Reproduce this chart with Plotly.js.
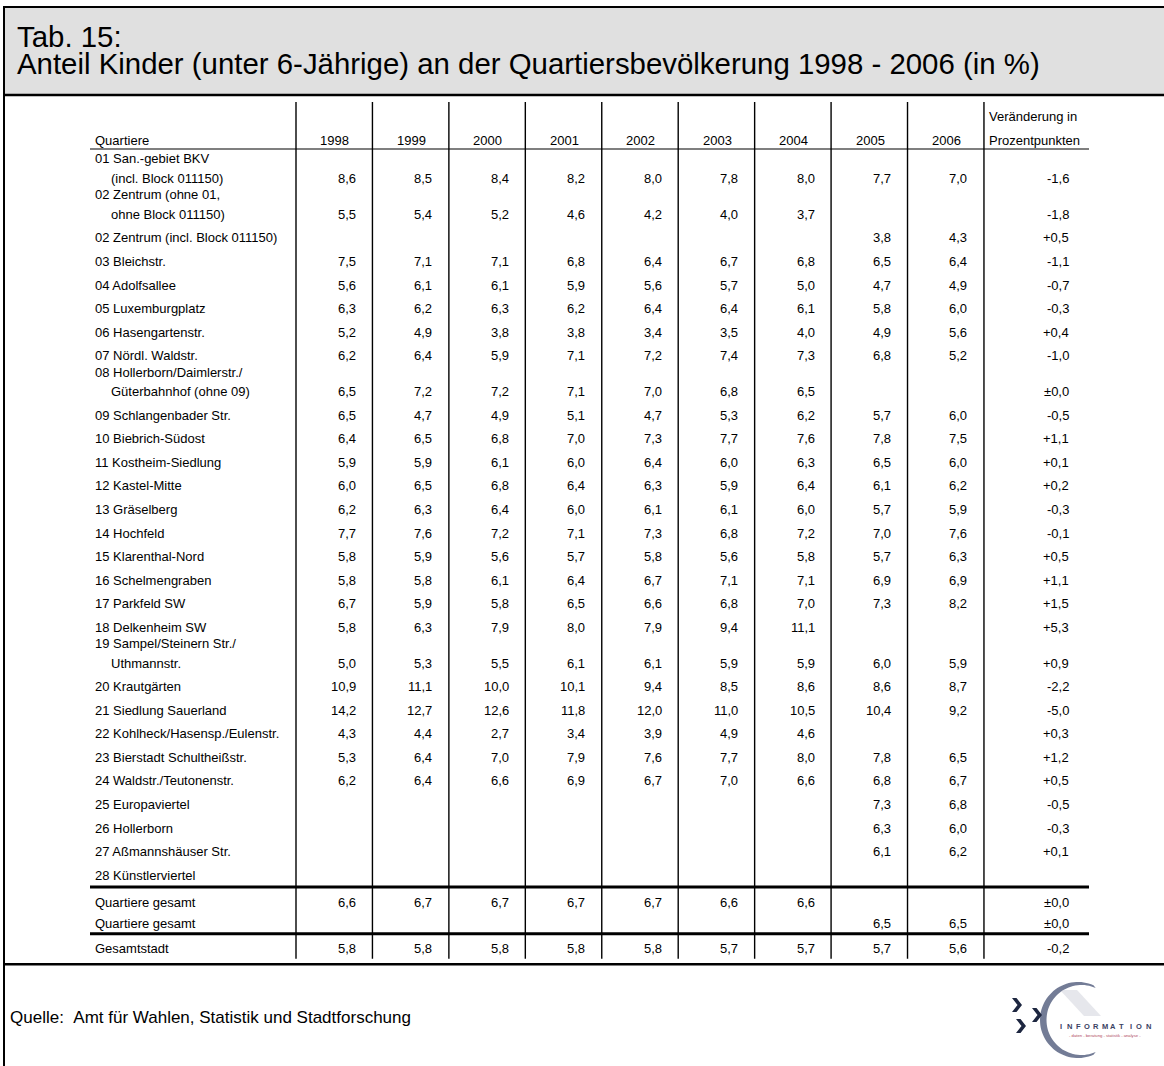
<!DOCTYPE html>
<html>
<head>
<meta charset="utf-8">
<script src="https://cdn.plot.ly/plotly-3.0.1.min.js"></script>
<style>html,body{margin:0;padding:0;background:#fff;}#chart{width:1164px;height:1066px;}</style>
</head>
<body>
<div id="chart"></div>
<script>
// ---------------- DATA ----------------
const titleLine1 = "Tab. 15:";
const titleLine2 = "Anteil Kinder (unter 6-Jährige) an der Quartiersbevölkerung 1998 - 2006 (in %)";
const sourceText = "Quelle:\u00a0\u00a0Amt für Wahlen, Statistik und Stadtforschung";
const firstHeader = "Quartiere";
const changeHeader = ["Veränderung in", "Prozentpunkten"];
const years = ["1998", "1999", "2000", "2001", "2002", "2003", "2004", "2005", "2006"];

const quartiere = [
  "01 San.-gebiet BKV\n(incl. Block 011150)",
  "02 Zentrum (ohne 01,\nohne Block 011150)",
  "02 Zentrum (incl. Block 011150)",
  "03 Bleichstr.",
  "04 Adolfsallee",
  "05 Luxemburgplatz",
  "06 Hasengartenstr.",
  "07 Nördl. Waldstr.",
  "08 Hollerborn/Daimlerstr./\nGüterbahnhof (ohne 09)",
  "09 Schlangenbader Str.",
  "10 Biebrich-Südost",
  "11 Kostheim-Siedlung",
  "12 Kastel-Mitte",
  "13 Gräselberg",
  "14 Hochfeld",
  "15 Klarenthal-Nord",
  "16 Schelmengraben",
  "17 Parkfeld SW",
  "18 Delkenheim SW",
  "19 Sampel/Steinern Str./\nUthmannstr.",
  "20 Krautgärten",
  "21 Siedlung Sauerland",
  "22 Kohlheck/Hasensp./Eulenstr.",
  "23 Bierstadt Schultheißstr.",
  "24 Waldstr./Teutonenstr.",
  "25 Europaviertel",
  "26 Hollerborn",
  "27 Aßmannshäuser Str.",
  "28 Künstlerviertel",
  "Quartiere gesamt",
  "Quartiere gesamt",
  "Gesamtstadt"
];

const v1998 = [8.6,5.5,null,7.5,5.6,6.3,5.2,6.2,6.5,6.5,6.4,5.9,6.0,6.2,7.7,5.8,5.8,6.7,5.8,5.0,10.9,14.2,4.3,5.3,6.2,null,null,null,null,6.6,null,5.8];
const v1999 = [8.5,5.4,null,7.1,6.1,6.2,4.9,6.4,7.2,4.7,6.5,5.9,6.5,6.3,7.6,5.9,5.8,5.9,6.3,5.3,11.1,12.7,4.4,6.4,6.4,null,null,null,null,6.7,null,5.8];
const v2000 = [8.4,5.2,null,7.1,6.1,6.3,3.8,5.9,7.2,4.9,6.8,6.1,6.8,6.4,7.2,5.6,6.1,5.8,7.9,5.5,10.0,12.6,2.7,7.0,6.6,null,null,null,null,6.7,null,5.8];
const v2001 = [8.2,4.6,null,6.8,5.9,6.2,3.8,7.1,7.1,5.1,7.0,6.0,6.4,6.0,7.1,5.7,6.4,6.5,8.0,6.1,10.1,11.8,3.4,7.9,6.9,null,null,null,null,6.7,null,5.8];
const v2002 = [8.0,4.2,null,6.4,5.6,6.4,3.4,7.2,7.0,4.7,7.3,6.4,6.3,6.1,7.3,5.8,6.7,6.6,7.9,6.1,9.4,12.0,3.9,7.6,6.7,null,null,null,null,6.7,null,5.8];
const v2003 = [7.8,4.0,null,6.7,5.7,6.4,3.5,7.4,6.8,5.3,7.7,6.0,5.9,6.1,6.8,5.6,7.1,6.8,9.4,5.9,8.5,11.0,4.9,7.7,7.0,null,null,null,null,6.6,null,5.7];
const v2004 = [8.0,3.7,null,6.8,5.0,6.1,4.0,7.3,6.5,6.2,7.6,6.3,6.4,6.0,7.2,5.8,7.1,7.0,11.1,5.9,8.6,10.5,4.6,8.0,6.6,null,null,null,null,6.6,null,5.7];
const v2005 = [7.7,null,3.8,6.5,4.7,5.8,4.9,6.8,null,5.7,7.8,6.5,6.1,5.7,7.0,5.7,6.9,7.3,null,6.0,8.6,10.4,null,7.8,6.8,7.3,6.3,6.1,null,null,6.5,5.7];
const v2006 = [7.0,null,4.3,6.4,4.9,6.0,5.6,5.2,null,6.0,7.5,6.0,6.2,5.9,7.6,6.3,6.9,8.2,null,5.9,8.7,9.2,null,6.5,6.7,6.8,6.0,6.2,null,null,6.5,5.6];
const change = [-1.6,-1.8,0.5,-1.1,-0.7,-0.3,0.4,-1.0,0.0,-0.5,1.1,0.1,0.2,-0.3,-0.1,0.5,1.1,1.5,5.3,0.9,-2.2,-5.0,0.3,1.2,0.5,-0.5,-0.3,0.1,null,0.0,0.0,-0.2];

const yearValues = [v1998, v1999, v2000, v2001, v2002, v2003, v2004, v2005, v2006];
const logoWord = "INFORMATION";
const logoSub = "- daten - beratung - statistik - analyse -";

// ---------------- LAYOUT HELPERS ----------------
const W = 1164, H = 1066;
const FONT = "Liberation Sans, Arial, Helvetica, sans-serif";
const FS = 13;
const fmt = v => v.toFixed(1).replace('.', ',');
const fmtChange = v => (v > 0 ? '+' : (v < 0 ? '-' : '\u00b1')) + Math.abs(v).toFixed(1).replace('.', ',');

const annotations = [];
function txt(x, baseline, text, anchor, size, opts) {
  opts = opts || {};
  annotations.push({
    x: x, y: baseline - 0.3465 * size, xref: 'x', yref: 'y',
    text: text, showarrow: false, xanchor: anchor, yanchor: 'middle',
    borderpad: 0, borderwidth: 0,
    font: {family: FONT, size: size, color: opts.color || '#000', weight: opts.weight || 'normal'}
  });
}

const colLeft = 296, colStep = 76.44;
const colLine = i => colLeft + i * colStep;
const tableLeft = 90, tableRight = 1089;
const labelX = 95, indentX = 111;

// row baselines
const baselines = [];
const lastQuartier = 28;
const summaryGaps = [26.9, 21.5, 24.7];
let yb = 182.9;
quartiere.forEach((lab, i) => {
  if (i > 0) {
    if (i <= lastQuartier) yb += (lab.split('\n').length > 1 ? 36 : 23.55);
    else yb += summaryGaps[i - lastQuartier - 1];
  }
  baselines.push(yb);
});

// ---------------- TEXT ----------------
txt(17, 46.5, titleLine1, 'left', 29.4);
txt(17, 74, titleLine2, 'left', 29.4);

txt(labelX, 145, firstHeader, 'left', FS);
years.forEach((y, j) => txt(colLine(j + 1) - 23, 145, y, 'right', FS));
txt(989, 121, changeHeader[0], 'left', FS);
txt(989, 145, changeHeader[1], 'left', FS);

quartiere.forEach((lab, i) => {
  const lines = lab.split('\n');
  const b = baselines[i];
  if (lines.length === 1) {
    txt(labelX, b, lines[0], 'left', FS);
  } else {
    txt(labelX, b - 19.5, lines[0], 'left', FS);
    txt(indentX, b, lines[1], 'left', FS);
  }
  yearValues.forEach((arr, j) => {
    if (arr[i] !== null) txt(colLine(j + 1) - 16.5, b, fmt(arr[i]), 'right', FS);
  });
  if (change[i] !== null) txt(1069, b, fmtChange(change[i]), 'right', FS);
});

txt(10, 1023, sourceText, 'left', 17);

// ---------------- SHAPES ----------------
const shapes = [];
function line(x0, y0, x1, y1, w, color) {
  shapes.push({type: 'line', xref: 'x', yref: 'y', x0, y0, x1, y1, line: {color: color || '#000', width: w}});
}
shapes.push({type: 'rect', xref: 'x', yref: 'y', x0: 3, x1: W, y0: 7, y1: 95, fillcolor: '#e0e0e0', line: {width: 0}, layer: 'below'});
line(3, 7, W, 7, 2);
line(3, 95, W, 95, 2.5);
line(4, 6, 4, H, 2);
for (let i = 0; i <= 9; i++) line(colLine(i), 102, colLine(i), 958.7, 1.4);
line(tableLeft, 149, tableRight, 149, 1.2);
line(tableLeft, 887, tableRight, 887, 3);
line(tableLeft, 933.7, tableRight, 933.7, 3);
line(3, 964.3, W, 964.3, 2.5);

// ---------------- LOGO ----------------
const lc = {x: 1078, y: 1020};
function arcPts(cx, cy, r, a0, a1, n) {
  const pts = [];
  for (let k = 0; k <= n; k++) {
    const a = (a0 + (a1 - a0) * k / n) * Math.PI / 180;
    pts.push([cx + r * Math.cos(a), cy + r * Math.sin(a)]);
  }
  return pts;
}
// faint inner chevron
shapes.push({type: 'path', xref: 'x', yref: 'y',
  path: 'M1060,990 L1077,990 L1101,1016 L1084,1016 Z',
  fillcolor: '#e6e7ec', line: {width: 0}});
// crescent ring
const outer = arcPts(lc.x, lc.y, 38, -66, -294, 60);
const inner = arcPts(lc.x + 3.5, lc.y, 35, -294, -66, 60);
const ring = outer.concat(inner);
shapes.push({type: 'path', xref: 'x', yref: 'y',
  path: 'M' + ring.map(p => p[0].toFixed(1) + ',' + p[1].toFixed(1)).join(' L') + ' Z',
  fillcolor: '#737c96', line: {width: 0}});
// chevrons
function chevron(x0, y0, w, h) {
  const ym = y0 + h / 2;
  return 'M' + x0 + ',' + y0 + ' L' + (x0 + w * 0.45) + ',' + y0 + ' L' + (x0 + w) + ',' + ym +
    ' L' + (x0 + w * 0.45) + ',' + (y0 + h) + ' L' + x0 + ',' + (y0 + h) + ' L' + (x0 + w * 0.55) + ',' + ym + ' Z';
}
[[1012, 998], [1032, 1008], [1016, 1019]].forEach(p => {
  shapes.push({type: 'path', xref: 'x', yref: 'y', path: chevron(p[0], p[1], 10, 14),
    fillcolor: '#1d2640', line: {width: 0}});
});
logoWord.split('').forEach((ch, k) => {
  annotations.push({x: 1061 + k * 8.7, y: 1026, xref: 'x', yref: 'y', text: ch, showarrow: false,
    xanchor: 'center', yanchor: 'middle', borderpad: 0, borderwidth: 0,
    font: {family: FONT, size: 7.5, color: '#3b4262', weight: 'bold'}});
});
annotations.push({x: 1105, y: 1035, xref: 'x', yref: 'y', text: logoSub, showarrow: false,
  xanchor: 'center', yanchor: 'middle', borderpad: 0, borderwidth: 0,
  font: {family: FONT, size: 4.2, color: '#b04a5c'}});

// ---------------- PLOT ----------------
const layout = {
  width: W, height: H,
  margin: {l: 0, r: 0, t: 0, b: 0, pad: 0},
  paper_bgcolor: '#fff', plot_bgcolor: '#fff',
  showlegend: false,
  xaxis: {range: [0, W], visible: false, fixedrange: true},
  yaxis: {range: [H, 0], visible: false, fixedrange: true},
  shapes: shapes,
  annotations: annotations
};
Plotly.newPlot('chart', [{x: [], y: [], type: 'scatter', mode: 'markers', hoverinfo: 'skip'}], layout, {staticPlot: true, displayModeBar: false});
</script>
</body>
</html>
